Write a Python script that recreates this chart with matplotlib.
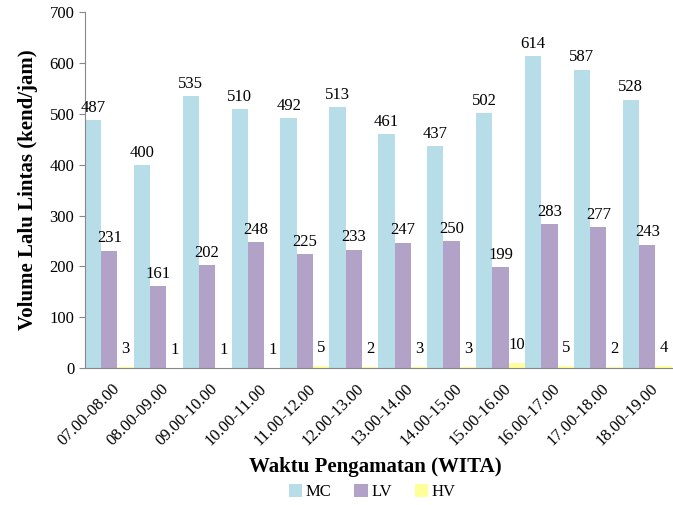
import matplotlib.pyplot as plt
import numpy as np

plt.rcParams['font.family'] = ['Liberation Serif', 'DejaVu Serif']

periods = ['07.00-08.00', '08.00-09.00', '09.00-10.00', '10.00-11.00',
           '11.00-12.00', '12.00-13.00', '13.00-14.00', '14.00-15.00',
           '15.00-16.00', '16.00-17.00', '17.00-18.00', '18.00-19.00']
mc = [487, 400, 535, 510, 492, 513, 461, 437, 502, 614, 587, 528]
lv = [231, 161, 202, 248, 225, 233, 247, 250, 199, 283, 277, 243]
hv = [3, 1, 1, 1, 5, 2, 3, 3, 10, 5, 2, 4]

series = [('MC', mc, '#B7DDE8'), ('LV', lv, '#B3A2C7'), ('HV', hv, '#FFFF99')]

fig = plt.figure(figsize=(6.73, 5.05), dpi=100)
ax = fig.add_axes([0.126, 0.271, 0.872, 0.705])

x = np.arange(len(periods))
w = 1 / 3
for i, (name, vals, col) in enumerate(series):
    pos = x + i * w + w / 2
    ax.bar(pos, vals, width=w, color=col, label=name)
    for px, v in zip(pos, vals):
        ax.annotate(str(v), (px, v), xytext=(0, 3 if name != 'HV' else 7),
                    textcoords='offset points', ha='center', va='bottom',
                    fontsize=12)

ax.set_xlim(0, len(periods))
ax.set_ylim(0, 700)
ax.set_yticks(range(0, 701, 100))
ax.set_xticks(x + 0.55)
ax.set_xticklabels(periods, rotation=45, ha='right', rotation_mode='anchor', fontsize=12)
ax.tick_params(axis='x', length=0, pad=9)
ax.tick_params(axis='y', labelsize=12, length=4, color='#888888')
for s in ['top', 'right']:
    ax.spines[s].set_visible(False)
ax.spines['left'].set_color('#888888')
ax.spines['bottom'].set_color('#888888')

ax.set_ylabel('Volume Lalu Lintas (kend/jam)', fontsize=15, fontweight='bold', labelpad=8)
fig.text(0.558, 0.075, 'Waktu Pengamatan (WITA)', ha='center', va='center',
         fontsize=15, fontweight='bold')
fig.legend(loc='center', bbox_to_anchor=(0.553, 0.025), ncol=3, frameon=False,
           fontsize=12, handlelength=0.8, handleheight=0.8, handletextpad=0.2,
           columnspacing=1.4)

fig.savefig('out.png', dpi=100)
